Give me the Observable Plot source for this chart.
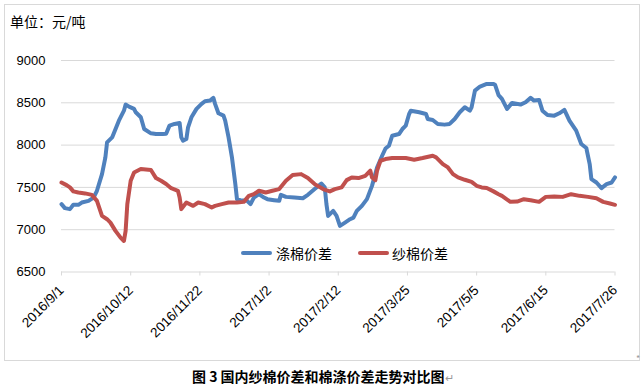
<!DOCTYPE html>
<html>
<head>
<meta charset="utf-8">
<script src="https://cdn.jsdelivr.net/npm/d3@7"></script>
<script src="https://cdn.jsdelivr.net/npm/@observablehq/plot@0.6"></script>
<style>
  html, body { margin: 0; padding: 0; background: #fff; }
  #wrap { position: relative; width: 642px; height: 388px; overflow: hidden; font-family: "Noto Sans CJK SC", sans-serif; }
  .frame { position: absolute; left: 4px; top: 4px; width: 636px; height: 357px; border: 1px solid #d9d9d9; box-sizing: border-box; }
  #chart { position: absolute; left: 0; top: 0; }
  .unit { position: absolute; left: 10px; top: 14px; font-size: 14px; line-height: 14px; color: #000; white-space: nowrap; }
  .leg { position: absolute; font-size: 14px; line-height: 14px; color: #000; white-space: nowrap; }
  .sw { position: absolute; height: 4px; border-radius: 2px; }
  .caption { position: absolute; left: 192px; top: 369px; font-size: 14px; line-height: 14px; font-weight: 700; color: #000; white-space: nowrap; }
  .caption .ret { font-weight: 400; color: #999; font-size: 11px; }
  .star { position: absolute; left: 636px; top: 352px; font-size: 9px; color: #999; }
</style>
</head>
<body>
<div id="wrap">
  <div class="frame"></div>
  <div id="chart"></div>
  <div class="unit">单位：元/吨</div>
  <div id="legend"></div>
  <div class="caption">图 3 国内纱棉价差和棉涤价差走势对比图<span class="ret">↵</span></div>
  <div class="star">*</div>
</div>
<script>
// ---- data ----
const seriesNames = ["涤棉价差", "纱棉价差"];
const seriesColors = ["#4F81BD", "#C0504D"];

const xTickLabels = ["2016/9/1", "2016/10/12", "2016/11/22", "2017/1/2", "2017/2/12", "2017/3/25", "2017/5/5", "2017/6/15", "2017/7/26"];
const yTicks = [6500, 7000, 7500, 8000, 8500, 9000];

const polyDates = [
  "2016/9/1","2016/9/3","2016/9/6","2016/9/8","2016/9/11","2016/9/13","2016/9/17","2016/9/20","2016/9/22","2016/9/25",
  "2016/9/27","2016/9/28","2016/10/1","2016/10/5","2016/10/8","2016/10/9","2016/10/11","2016/10/14","2016/10/15","2016/10/18",
  "2016/10/20","2016/10/24","2016/10/27","2016/10/31","2016/11/2","2016/11/4","2016/11/7","2016/11/10","2016/11/11","2016/11/12",
  "2016/11/14","2016/11/15","2016/11/17","2016/11/20","2016/11/23","2016/11/25","2016/11/28","2016/11/30","2016/12/1","2016/12/3",
  "2016/12/6","2016/12/7","2016/12/9","2016/12/11","2016/12/13","2016/12/14","2016/12/16","2016/12/20","2016/12/22","2016/12/24",
  "2016/12/27","2016/12/30","2017/1/1","2017/1/5","2017/1/8","2017/1/9","2017/1/12","2017/1/17","2017/1/22","2017/1/25",
  "2017/1/29","2017/2/2","2017/2/4","2017/2/5","2017/2/6","2017/2/9","2017/2/11","2017/2/13","2017/2/16","2017/2/19",
  "2017/2/21","2017/2/23","2017/2/26","2017/3/1","2017/3/4","2017/3/7","2017/3/10","2017/3/12","2017/3/14","2017/3/16",
  "2017/3/20","2017/3/22","2017/3/24","2017/3/26","2017/3/27","2017/4/1","2017/4/5","2017/4/6","2017/4/9","2017/4/12",
  "2017/4/16","2017/4/19","2017/4/22","2017/4/25","2017/4/28","2017/5/1","2017/5/2","2017/5/4","2017/5/7","2017/5/11",
  "2017/5/15","2017/5/16","2017/5/18","2017/5/20","2017/5/23","2017/5/26","2017/5/31","2017/6/3","2017/6/6","2017/6/8",
  "2017/6/11","2017/6/13","2017/6/16","2017/6/20","2017/6/23","2017/6/26","2017/6/29","2017/7/3","2017/7/6","2017/7/9",
  "2017/7/11","2017/7/12","2017/7/15","2017/7/18","2017/7/21","2017/7/24","2017/7/26"
];
const polyValues = [
  7302,7255,7243,7294,7294,7321,7341,7380,7460,7657,
  7855,8032,8091,8289,8407,8479,8455,8428,8388,8329,
  8190,8139,8131,8131,8135,8230,8250,8262,8091,8052,
  8072,8210,8329,8428,8487,8518,8526,8558,8487,8376,
  8348,8289,8091,7855,7539,7361,7349,7341,7302,7380,
  7420,7380,7361,7349,7341,7412,7388,7380,7372,7412,
  7480,7546,7500,7302,7163,7222,7163,7045,7084,7124,
  7143,7222,7282,7361,7518,7736,7874,7960,7992,8111,
  8131,8190,8230,8368,8407,8388,8368,8309,8297,8250,
  8242,8250,8309,8388,8447,8407,8447,8644,8692,8723,
  8723,8710,8590,8546,8428,8499,8479,8507,8558,8526,
  8534,8407,8356,8348,8376,8416,8289,8171,8013,7966,
  7776,7598,7558,7492,7539,7558,7618
];

const yarnDates = [
  "2016/9/1","2016/9/4","2016/9/6","2016/9/8","2016/9/11","2016/9/15","2016/9/19","2016/9/22","2016/9/25","2016/9/28",
  "2016/9/30","2016/10/3","2016/10/6","2016/10/8","2016/10/9","2016/10/10","2016/10/12","2016/10/14","2016/10/18","2016/10/24",
  "2016/10/27","2016/10/30","2016/11/2","2016/11/5","2016/11/9","2016/11/10","2016/11/11","2016/11/14","2016/11/18","2016/11/21",
  "2016/11/25","2016/11/29","2016/12/1","2016/12/5","2016/12/9","2016/12/14","2016/12/18","2016/12/21","2016/12/24","2016/12/27",
  "2016/12/31","2017/1/4","2017/1/8","2017/1/12","2017/1/16","2017/1/21","2017/1/25","2017/1/29","2017/2/3","2017/2/7",
  "2017/2/10","2017/2/14","2017/2/17","2017/2/20","2017/2/24","2017/2/28","2017/3/3","2017/3/4","2017/3/6","2017/3/7",
  "2017/3/9","2017/3/12","2017/3/16","2017/3/20","2017/3/24","2017/3/29","2017/4/3","2017/4/9","2017/4/11","2017/4/15",
  "2017/4/18","2017/4/21","2017/4/24","2017/4/28","2017/5/2","2017/5/5","2017/5/8","2017/5/11","2017/5/15","2017/5/18",
  "2017/5/20","2017/5/25","2017/5/29","2017/6/2","2017/6/6","2017/6/11","2017/6/15","2017/6/20","2017/6/25","2017/6/30",
  "2017/7/5","2017/7/10","2017/7/15","2017/7/19","2017/7/23","2017/7/26"
];
const yarnValues = [
  7558,7527,7500,7453,7440,7429,7412,7341,7163,7124,
  7084,6986,6906,6867,6986,7302,7578,7677,7717,7705,
  7610,7578,7540,7490,7460,7380,7243,7321,7282,7321,
  7302,7262,7282,7302,7321,7321,7329,7400,7420,7460,
  7440,7460,7480,7578,7646,7657,7610,7539,7480,7453,
  7480,7500,7586,7618,7610,7637,7697,7618,7586,7697,
  7815,7835,7847,7847,7847,7827,7847,7874,7855,7776,
  7736,7657,7618,7590,7566,7519,7500,7492,7453,7420,
  7400,7329,7333,7361,7349,7329,7388,7392,7388,7420,
  7400,7388,7372,7329,7310,7294
];

// ---- build ----
const parse = d3.utcParse("%Y/%m/%d");
const rows = [];
polyDates.forEach((d, i) => rows.push({date: parse(d), value: polyValues[i], series: seriesNames[0]}));
yarnDates.forEach((d, i) => rows.push({date: parse(d), value: yarnValues[i], series: seriesNames[1]}));
const xTicks = xTickLabels.map(parse);
const fmt = d => `${d.getUTCFullYear()}/${d.getUTCMonth() + 1}/${d.getUTCDate()}`;

const chart = Plot.plot({
  width: 642,
  height: 362,
  marginLeft: 61,
  marginRight: 27.5,
  marginTop: 60,
  marginBottom: 90.5,
  style: {fontFamily: "'Liberation Sans', Arial, sans-serif", fontSize: "13px", background: "transparent", overflow: "visible"},
  x: {type: "utc", domain: [xTicks[0], xTicks[xTicks.length - 1]]},
  y: {domain: [yTicks[0], yTicks[yTicks.length - 1]]},
  color: {domain: seriesNames, range: seriesColors},
  marks: [
    Plot.gridY(yTicks.slice(1), {stroke: "#d9d9d9", strokeOpacity: 1}),
    Plot.ruleY([yTicks[0]], {stroke: "#d9d9d9", strokeWidth: 1}),
    Plot.axisY({ticks: yTicks, tickFormat: d => String(d), tickSize: 0, tickPadding: 16, fill: "#000", label: null, fontSize: 13}),
    Plot.axisX({ticks: xTicks, tickSize: 4, stroke: "#d9d9d9", strokeOpacity: 1, label: null, text: null}),
    Plot.axisX({ticks: xTicks, tickFormat: fmt, tickSize: 0, fill: "#000",
      tickRotate: -45, tickPadding: 16, dx: 0, label: null, fontSize: 13.5}),
    Plot.line(rows, {x: "date", y: "value", z: "series", stroke: "series", strokeWidth: 4,
      strokeLinejoin: "round", strokeLinecap: "round"})
  ]
});
document.getElementById("chart").appendChild(chart);

// legend (inside plot area, as in reference)
const legend = document.getElementById("legend");
const legPos = [{sw: 241, tx: 276}, {sw: 358, tx: 392}];
seriesNames.forEach((name, i) => {
  const sw = document.createElement("div");
  sw.className = "sw";
  sw.style.left = legPos[i].sw + "px";
  sw.style.top = "251px";
  sw.style.width = "31px";
  sw.style.background = seriesColors[i];
  legend.appendChild(sw);
  const t = document.createElement("div");
  t.className = "leg";
  t.style.left = legPos[i].tx + "px";
  t.style.top = "246px";
  t.textContent = name;
  legend.appendChild(t);
});
</script>
</body>
</html>
